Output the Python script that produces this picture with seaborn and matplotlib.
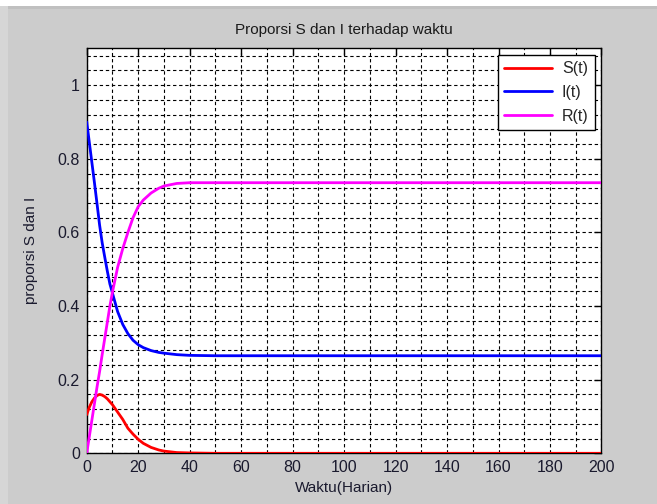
import numpy as np
import pandas as pd
import matplotlib
matplotlib.use("Agg")
import matplotlib.pyplot as plt
import seaborn as sns
from matplotlib.ticker import MultipleLocator
from matplotlib.patches import Rectangle

# Data
t_days = [0, 1, 2, 3, 4, 5, 6, 7, 8, 9, 10, 12, 14, 16, 18, 20, 22, 25, 28, 30, 35, 40,
          50, 60, 70, 80, 90, 100, 110, 120, 130, 140, 150, 160, 170, 180, 190, 200]
S_vals = [0.105, 0.125, 0.140, 0.150, 0.157, 0.160, 0.158, 0.154, 0.148, 0.140, 0.132,
          0.112, 0.092, 0.068, 0.052, 0.038, 0.027, 0.016, 0.009, 0.006, 0.002, 0.001,
          0.0, 0.0, 0.0, 0.0, 0.0, 0.0, 0.0, 0.0, 0.0, 0.0, 0.0, 0.0, 0.0, 0.0, 0.0, 0.0]
I_vals = [0.900, 0.845, 0.790, 0.735, 0.678, 0.620, 0.572, 0.533, 0.495, 0.460, 0.435,
          0.385, 0.350, 0.325, 0.307, 0.295, 0.287, 0.279, 0.274, 0.272, 0.268, 0.266,
          0.265, 0.265, 0.265, 0.265, 0.265, 0.265, 0.265, 0.265, 0.265, 0.265, 0.265,
          0.265, 0.265, 0.265, 0.265, 0.265]
R_vals = [0.0, 0.045, 0.090, 0.135, 0.180, 0.222, 0.268, 0.312, 0.356, 0.400, 0.438,
          0.505, 0.556, 0.600, 0.640, 0.670, 0.688, 0.707, 0.720, 0.726, 0.733, 0.735,
          0.735, 0.735, 0.735, 0.735, 0.735, 0.735, 0.735, 0.735, 0.735, 0.735, 0.735,
          0.735, 0.735, 0.735, 0.735, 0.735]
series_names = ["S(t)", "I(t)", "R(t)"]
series_colors = ["#ff0000", "#0000ff", "#ff00ff"]

title_text = "Proporsi S dan I terhadap waktu"
xlabel_text = "Waktu(Harian)"
ylabel_text = "proporsi S dan I"

df = pd.DataFrame({"t": t_days, "S(t)": S_vals, "I(t)": I_vals, "R(t)": R_vals})
long = df.melt(id_vars="t", var_name="series", value_name="value")

sns.set_style("white")
plt.rcParams["font.family"] = ["Liberation Sans", "DejaVu Sans"]

fig = plt.figure(figsize=(6.57, 5.04), dpi=100)
fig.patch.set_facecolor("#cccccc")
# white frame strips at top/left, like the screenshot
fig.patches.append(Rectangle((0, 1 - 6 / 504), 1, 6 / 504, transform=fig.transFigure,
                             facecolor="white", edgecolor="none", zorder=-1))
fig.patches.append(Rectangle((0, 1 - 9 / 504), 1, 3 / 504, transform=fig.transFigure,
                             facecolor="#c0c0c0", edgecolor="none", zorder=-1))
fig.patches.append(Rectangle((0, 0), 8 / 657, 1 - 6 / 504, transform=fig.transFigure,
                             facecolor="#d6d6d6", edgecolor="none", zorder=-1))

ax = fig.add_axes([0.132, 0.1006, 0.7835, 0.8035])
ax.set_facecolor("white")

sns.lineplot(data=long, x="t", y="value", hue="series", hue_order=series_names,
             palette=series_colors, linewidth=2.0, ax=ax, legend=True, zorder=3)

ax.set_xlim(0, 200)
ax.set_ylim(0, 1.1)
ax.xaxis.set_major_locator(MultipleLocator(20))
ax.xaxis.set_minor_locator(MultipleLocator(10))
ax.yaxis.set_major_locator(MultipleLocator(0.2))
ax.yaxis.set_minor_locator(MultipleLocator(0.04))
ax.yaxis.set_major_formatter(matplotlib.ticker.FuncFormatter(
    lambda v, p: "0" if abs(v) < 1e-9 else ("1" if abs(v - 1) < 1e-9 else f"{v:.1f}")))

ax.grid(True, which="both", color="black", linestyle=(0, (3, 2.5)), linewidth=0.8)
ax.tick_params(which="major", direction="in", length=5, width=1, top=True, right=True,
               labelsize=11.5, colors="black", labelcolor="#1a1a2e", pad=5)
ax.tick_params(which="minor", direction="in", length=0, top=True, right=True)
for s in ax.spines.values():
    s.set_visible(True)
    s.set_color("black")
    s.set_linewidth(1.0)

ax.set_title(title_text, fontsize=11, color="#1a1a1a", pad=10)
ax.set_xlabel(xlabel_text, fontsize=11, color="#1a1a2e", labelpad=4)
ax.set_ylabel(ylabel_text, fontsize=11, color="#1a1a2e", labelpad=14)

leg = ax.legend(loc="upper right", fontsize=11.5, frameon=True, fancybox=False,
                framealpha=1, edgecolor="black", borderaxespad=0.4,
                handlelength=3.0, handletextpad=0.6, labelspacing=0.55,
                borderpad=0.4)
leg.get_frame().set_linewidth(1.0)
for line in leg.get_lines():
    line.set_linewidth(2.0)

fig.savefig("out.png", dpi=100, facecolor=fig.get_facecolor())
